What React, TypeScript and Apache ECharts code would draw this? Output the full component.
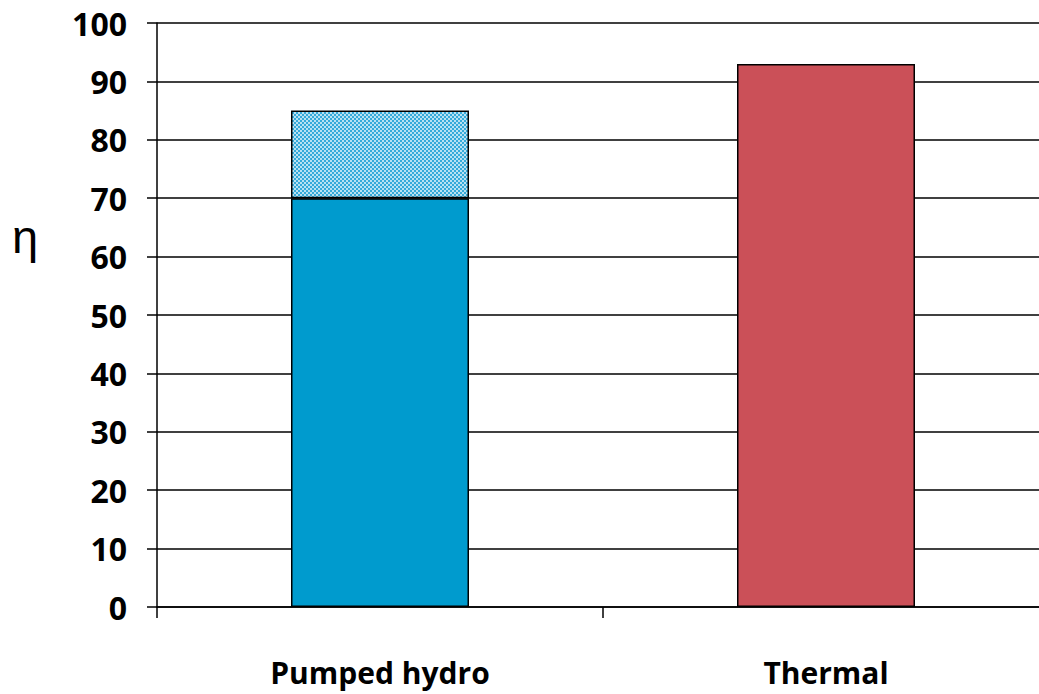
import React, { useEffect, useRef } from "react";
import * as echarts from "echarts";

const categories = ["Pumped hydro", "Thermal"];
const baseValues = [70, 93];
const rangeValues: (number | string)[] = [15, "-"];
const baseColors = ["#009BCE", "#CB5058"];
const yTicks = { min: 0, max: 100, interval: 10 };

function makePattern() {
  const c = document.createElement("canvas");
  c.width = 4;
  c.height = 4;
  const ctx = c.getContext("2d")!;
  ctx.fillStyle = "#B8E2F3";
  ctx.fillRect(0, 0, 4, 4);
  ctx.fillStyle = "#35AADA";
  ctx.fillRect(0, 0, 2, 2);
  ctx.fillRect(2, 2, 2, 2);
  return { image: c, repeat: "repeat" as const };
}

const FONT = "'Open Sans', sans-serif";

export default function App() {
  const ref = useRef<HTMLDivElement>(null);
  useEffect(() => {
    document.body.style.margin = "0";
    document.body.style.overflow = "hidden";
    document.documentElement.style.overflow = "hidden";
    const chart = echarts.init(ref.current!, null, { renderer: "svg" });
    chart.setOption({
      animation: false,
      backgroundColor: "#ffffff",
      grid: { left: 157, top: 23, right: 1, bottom: 87, containLabel: false },
      graphic: [
        {
          type: "text",
          style: {
            text: "η",
            x: 25,
            y: 236,
            align: "center",
            verticalAlign: "middle",
            font: "47px 'Liberation Sans', sans-serif",
            fill: "#000",
          },
        },
      ],
      xAxis: {
        type: "category",
        data: categories,
        boundaryGap: true,
        axisLine: { show: true, lineStyle: { color: "#000", width: 1.5 } },
        axisTick: { show: true, length: 11, alignWithLabel: false, lineStyle: { color: "#000", width: 1.5 } },
        axisLabel: { margin: 50, color: "#000", fontSize: 30, fontWeight: "bold", fontFamily: FONT },
        splitLine: { show: false },
      },
      yAxis: {
        type: "value",
        min: yTicks.min,
        max: yTicks.max,
        interval: yTicks.interval,
        axisLine: { show: true, lineStyle: { color: "#000", width: 1.5 } },
        axisTick: { show: true, length: 10, inside: false, lineStyle: { color: "#000", width: 1.5 } },
        axisLabel: { margin: 30, color: "#000", fontSize: 32, fontWeight: "bold", fontFamily: FONT },
        splitLine: { show: true, lineStyle: { color: "#000", width: 1.5 } },
      },
      series: [
        {
          type: "bar",
          stack: "s",
          barWidth: 178,
          data: baseValues.map((v, i) => ({
            value: v,
            itemStyle: { color: baseColors[i], borderColor: "#000", borderWidth: 1.5 },
          })),
        },
        {
          type: "bar",
          stack: "s",
          barWidth: 178,
          data: rangeValues,
          itemStyle: { color: makePattern() as any, borderColor: "#000", borderWidth: 1.5 },
        },
      ],
    });
    return () => chart.dispose();
  }, []);
  return (
    <div
      ref={ref}
      style={{ position: "fixed", left: 0, top: 0, width: 1050, height: 694 }}
    />
  );
}
